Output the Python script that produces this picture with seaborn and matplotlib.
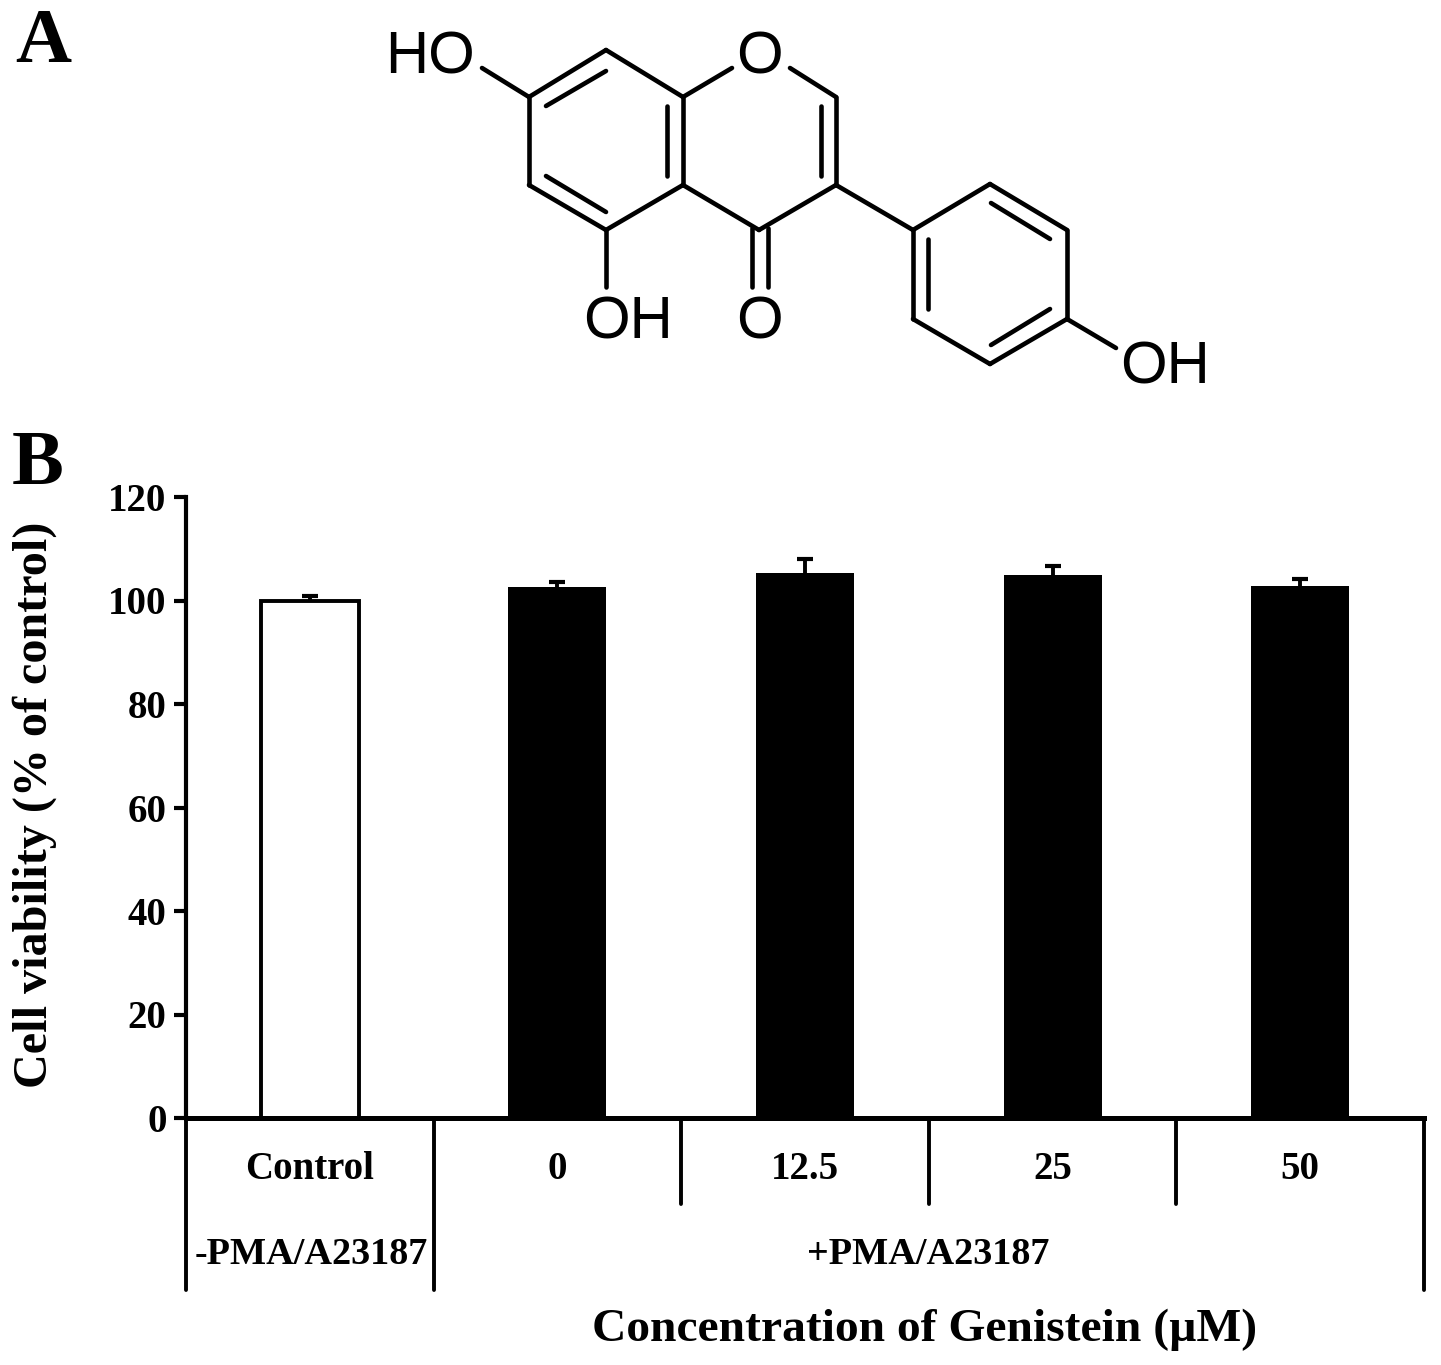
import matplotlib
matplotlib.use("Agg")
import matplotlib.pyplot as plt
import pandas as pd
import seaborn as sns

# chart values
groups = ["Control", "0", "12.5", "25", "50"]
viability = [100.0, 102.6, 105.3, 104.9, 102.8]
errors = [0.9, 0.9, 2.7, 1.7, 1.4]
fill_colors = ["white", "black", "black", "black", "black"]
y_ticks = [0, 20, 40, 60, 80, 100, 120]

# panel A structure, in picture pixels
bonds = [
    ((529, 97), (606, 50)), ((606, 50), (683, 97)), ((683, 97), (683, 185)),
    ((683, 185), (606, 230)), ((606, 230), (529, 185)), ((529, 185), (529, 97)),
    ((683, 97), (732, 68)), ((790, 68), (836, 97)), ((836, 97), (836, 185)),
    ((836, 185), (759, 230)), ((759, 230), (683, 185)),
    ((836, 185), (913, 230)), ((913, 230), (990, 184)), ((990, 184), (1067, 230)),
    ((1067, 230), (1067, 319)), ((1067, 319), (990, 364)), ((990, 364), (913, 319)),
    ((913, 319), (913, 230)),
    ((1067, 319), (1116, 348)), ((482, 68), (529, 97)), ((606, 230), (606, 287)),
    ((752, 228), (752, 287)), ((768, 228), (768, 287)),
    ((546, 106), (606, 71)), ((546, 176), (606, 212)), ((667, 106), (667, 176)),
    ((821, 106), (821, 176)), ((928, 239), (928, 309)),
    ((991, 203), (1050, 239)), ((991, 345), (1050, 309)),
]
atoms = [("HO", 430, 58), ("O", 759, 58), ("OH", 628, 323), ("O", 759, 323), ("OH", 1165, 368)]

W, H = 1441, 1365
sns.set_theme(style="white")
plt.rcParams["font.family"] = ["Liberation Serif", "DejaVu Serif"]
plt.rcParams["font.weight"] = "bold"

df = pd.DataFrame({"group": groups, "viability": viability})

fig = plt.figure(figsize=(W / 100, H / 100), dpi=100)
ax = fig.add_axes([186 / W, 1 - 1118 / H, (1424 - 186) / W, (1118 - 497) / H])

sns.barplot(data=df, x="group", y="viability", hue="group", palette=fill_colors,
            order=groups, hue_order=groups, width=0.395, dodge=False, legend=False,
            edgecolor="black", linewidth=2.8, ax=ax)
# only the white bar keeps an outline, black ones would grow by it
for patch, color in zip(ax.patches, fill_colors):
    if color == "black":
        patch.set_linewidth(0)
_, caps, _ = ax.errorbar(range(len(groups)), viability, yerr=[[0] * len(errors), errors],
                         fmt="none", ecolor="black", elinewidth=2.8, capsize=6, capthick=3,
                         zorder=1)
caps[0].set_visible(False)  # upper caps only

ax.set_xlim(-0.5, 4.5)
ax.set_ylim(0, 120)
ax.set_yticks(y_ticks)
ax.set_xticks(range(len(groups)))
ax.set_xticklabels(groups)
ax.tick_params(axis="x", length=0, pad=24, labelsize=28, labelcolor="black")
ax.tick_params(axis="y", length=9, width=3, pad=5, labelsize=28, left=True,
               color="black", labelcolor="black")
ax.set_xlabel("")
ax.set_ylabel("")
sns.despine(ax=ax)
ax.spines["left"].set_linewidth(3)
ax.spines["bottom"].set_linewidth(3.6)
ax.spines["left"].set_color("black")
ax.spines["bottom"].set_color("black")

# table lines under the axis
trans = ax.get_xaxis_transform()
for x in [-0.5, 0.5, 4.5]:
    ax.plot([x, x], [0, -172 / 621], color="black", lw=2.8, transform=trans, clip_on=False)
for x in [1.5, 2.5, 3.5]:
    ax.plot([x, x], [0, -86 / 621], color="black", lw=2.8, transform=trans, clip_on=False)

# overlay in picture pixels for panel A and the free text
ov = fig.add_axes([0, 0, 1, 1], facecolor="none")
ov.set_xlim(0, W)
ov.set_ylim(H, 0)
ov.axis("off")

for (x0, y0), (x1, y1) in bonds:
    ov.plot([x0, x1], [y0, y1], color="black", lw=3.3, solid_capstyle="round")
for label, x, y in atoms:
    ov.text(x, y, label, family="Liberation Sans", fontweight="normal", fontsize=43,
            ha="center", va="center", color="black")

ov.text(43, 44, "A", fontsize=56, ha="center", va="center", color="black")
ov.text(38, 466, "B", fontsize=56, ha="center", va="center", color="black")
ov.text(35, 805, "Cell viability (% of control)", fontsize=34.7, rotation=90,
        ha="center", va="center", color="black")
ov.text(311, 1254, "-PMA/A23187", fontsize=27.5, ha="center", va="center", color="black")
ov.text(928, 1255, "+PMA/A23187", fontsize=27.5, ha="center", va="center", color="black")
ov.text(925, 1330, "Concentration of Genistein (\u00b5M)", fontsize=34.2,
        ha="center", va="center", color="black")

fig.savefig("out.png", dpi=100, facecolor="white")
